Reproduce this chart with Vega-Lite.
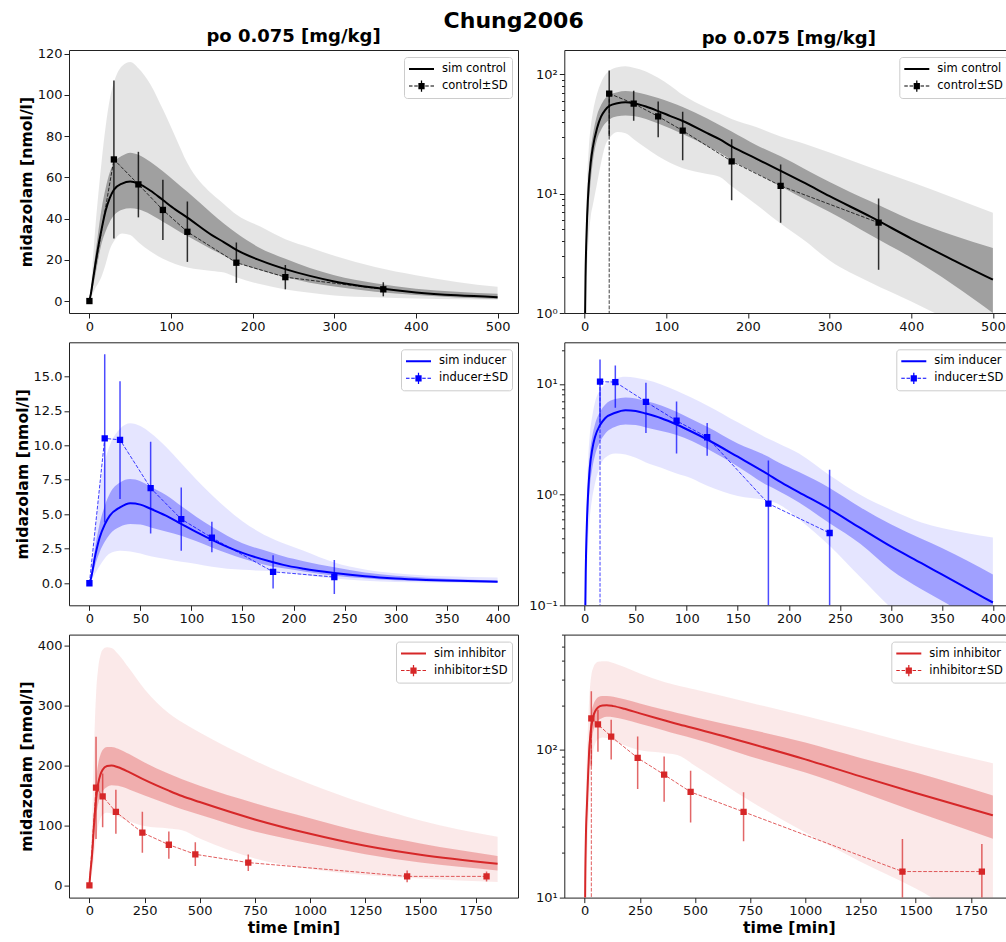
{
"$schema": "https://vega.github.io/schema/vega-lite/v6.json",
"padding": {"left": 13, "top": 10, "right": 0, "bottom": 5},
"title": {"text": "Chung2006", "fontSize": 22, "fontWeight": "bold", "color": "#000000", "offset": -6, "anchor": "middle", "frame": "bounds"},
"columns": 2,
"spacing": {"row": 29.3, "column": 46.3},
"bounds": "flush",
"resolve": {"scale": {"x": "independent", "y": "independent", "shape": "independent"}, "legend": {"shape": "independent"}},
"datasets": {
"control": [
{"kind":"sim control","t":0,"v":0,"lo1":0,"hi1":0,"lo2":0,"hi2":0},
{"kind":"sim control","t":0.5,"v":1.0,"lo1":0.6,"hi1":1.3,"lo2":0.4,"hi2":1.8},
{"kind":"sim control","t":1,"v":2.0,"lo1":1.2,"hi1":2.6,"lo2":0.8,"hi2":3.8},
{"kind":"sim control","t":2,"v":4.0,"lo1":2.5,"hi1":5.2,"lo2":1.5,"hi2":8},
{"kind":"sim control","t":3,"v":6.5,"lo1":4.2,"hi1":8.5,"lo2":2.4,"hi2":13},
{"kind":"sim control","t":5,"v":12,"lo1":8,"hi1":15.5,"lo2":4.3,"hi2":24},
{"kind":"sim control","t":7.5,"v":18.5,"lo1":13,"hi1":23.5,"lo2":6.5,"hi2":37},
{"kind":"sim control","t":10,"v":24.5,"lo1":18.5,"hi1":31,"lo2":8,"hi2":48},
{"kind":"sim control","t":15,"v":35,"lo1":28,"hi1":45,"lo2":12,"hi2":68},
{"kind":"sim control","t":20,"v":44,"lo1":34,"hi1":55,"lo2":18,"hi2":85},
{"kind":"sim control","t":25,"v":50,"lo1":38.5,"hi1":62.5,"lo2":25,"hi2":98},
{"kind":"sim control","t":30,"v":54,"lo1":41.5,"hi1":67,"lo2":29,"hi2":106},
{"kind":"sim control","t":40,"v":57,"lo1":44.3,"hi1":70.5,"lo2":32.8,"hi2":114},
{"kind":"sim control","t":50,"v":58,"lo1":45,"hi1":72,"lo2":32,"hi2":116},
{"kind":"sim control","t":60,"v":57,"lo1":44.5,"hi1":71,"lo2":28.5,"hi2":113},
{"kind":"sim control","t":75,"v":53.5,"lo1":42,"hi1":67.5,"lo2":24,"hi2":105},
{"kind":"sim control","t":90,"v":49,"lo1":38.5,"hi1":63,"lo2":20.5,"hi2":93},
{"kind":"sim control","t":105,"v":44.5,"lo1":35,"hi1":58,"lo2":18,"hi2":80},
{"kind":"sim control","t":120,"v":40.5,"lo1":31.5,"hi1":53,"lo2":16.3,"hi2":67},
{"kind":"sim control","t":150,"v":32,"lo1":25,"hi1":42.5,"lo2":14.6,"hi2":52},
{"kind":"sim control","t":165,"v":28.5,"lo1":22,"hi1":37.5,"lo2":13.8,"hi2":47},
{"kind":"sim control","t":180,"v":24.8,"lo1":19,"hi1":33,"lo2":11.5,"hi2":42},
{"kind":"sim control","t":210,"v":19.6,"lo1":14.8,"hi1":25.5,"lo2":8.1,"hi2":36},
{"kind":"sim control","t":240,"v":15.5,"lo1":11.5,"hi1":20.5,"lo2":5.6,"hi2":30},
{"kind":"sim control","t":270,"v":12.2,"lo1":8.9,"hi1":16,"lo2":4.0,"hi2":26},
{"kind":"sim control","t":300,"v":9.5,"lo1":7.0,"hi1":12.5,"lo2":2.75,"hi2":22},
{"kind":"sim control","t":350,"v":6.4,"lo1":4.5,"hi1":8.6,"lo2":1.8,"hi2":16.5},
{"kind":"sim control","t":400,"v":4.2,"lo1":2.9,"hi1":6.0,"lo2":1.25,"hi2":12.5},
{"kind":"sim control","t":450,"v":2.8,"lo1":1.75,"hi1":4.5,"lo2":0.85,"hi2":9.3},
{"kind":"sim control","t":500,"v":1.9,"lo1":1.0,"hi1":3.5,"lo2":0.6,"hi2":6.9},
{"kind":"control±SD","t":0,"v":0,"lo":0,"hi":0},
{"kind":"control±SD","t":30,"v":68.7,"lo":30.3,"hi":107},
{"kind":"control±SD","t":60,"v":56.6,"lo":40.6,"hi":72.4},
{"kind":"control±SD","t":90,"v":44.2,"lo":29.6,"hi":58.8},
{"kind":"control±SD","t":120,"v":33.6,"lo":19.0,"hi":48.3},
{"kind":"control±SD","t":180,"v":18.6,"lo":8.8,"hi":28.4},
{"kind":"control±SD","t":240,"v":11.6,"lo":5.7,"hi":17.5},
{"kind":"control±SD","t":360,"v":5.7,"lo":2.3,"hi":9.1}
],
"inducer": [
{"kind":"sim inducer","t":0,"v":0,"lo1":0,"hi1":0,"lo2":0,"hi2":0},
{"kind":"sim inducer","t":0.5,"v":0.08,"lo1":0.05,"hi1":0.11,"lo2":0.03,"hi2":0.15},
{"kind":"sim inducer","t":1,"v":0.2,"lo1":0.12,"hi1":0.27,"lo2":0.07,"hi2":0.38},
{"kind":"sim inducer","t":2,"v":0.5,"lo1":0.32,"hi1":0.68,"lo2":0.17,"hi2":1.0},
{"kind":"sim inducer","t":3.5,"v":1.1,"lo1":0.72,"hi1":1.45,"lo2":0.4,"hi2":2.2},
{"kind":"sim inducer","t":5,"v":1.75,"lo1":1.15,"hi1":2.3,"lo2":0.62,"hi2":3.5},
{"kind":"sim inducer","t":7.5,"v":2.6,"lo1":1.75,"hi1":3.4,"lo2":0.95,"hi2":5.2},
{"kind":"sim inducer","t":10,"v":3.3,"lo1":2.25,"hi1":4.3,"lo2":1.25,"hi2":6.8},
{"kind":"sim inducer","t":15,"v":4.25,"lo1":3.0,"hi1":5.6,"lo2":1.8,"hi2":8.8},
{"kind":"sim inducer","t":20,"v":4.9,"lo1":3.55,"hi1":6.5,"lo2":2.15,"hi2":10.0},
{"kind":"sim inducer","t":30,"v":5.5,"lo1":4.1,"hi1":7.3,"lo2":2.35,"hi2":11.2},
{"kind":"sim inducer","t":40,"v":5.8,"lo1":4.3,"hi1":7.55,"lo2":2.3,"hi2":11.6},
{"kind":"sim inducer","t":50,"v":5.7,"lo1":4.25,"hi1":7.4,"lo2":2.15,"hi2":11.4},
{"kind":"sim inducer","t":60,"v":5.4,"lo1":4.05,"hi1":7.0,"lo2":1.95,"hi2":10.9},
{"kind":"sim inducer","t":75,"v":4.9,"lo1":3.75,"hi1":6.4,"lo2":1.75,"hi2":9.9},
{"kind":"sim inducer","t":90,"v":4.3,"lo1":3.45,"hi1":5.6,"lo2":1.55,"hi2":8.7},
{"kind":"sim inducer","t":105,"v":3.7,"lo1":3.05,"hi1":4.8,"lo2":1.4,"hi2":7.5},
{"kind":"sim inducer","t":120,"v":3.15,"lo1":2.6,"hi1":4.1,"lo2":1.2,"hi2":6.4},
{"kind":"sim inducer","t":150,"v":2.2,"lo1":1.8,"hi1":2.9,"lo2":0.97,"hi2":4.5},
{"kind":"sim inducer","t":180,"v":1.52,"lo1":1.2,"hi1":2.2,"lo2":0.88,"hi2":3.2},
{"kind":"sim inducer","t":190,"v":1.33,"lo1":1.08,"hi1":1.95,"lo2":0.82,"hi2":2.9},
{"kind":"sim inducer","t":210,"v":1.05,"lo1":0.85,"hi1":1.6,"lo2":0.6,"hi2":2.35},
{"kind":"sim inducer","t":240,"v":0.74,"lo1":0.55,"hi1":1.15,"lo2":0.345,"hi2":1.5},
{"kind":"sim inducer","t":270,"v":0.5,"lo1":0.36,"hi1":0.77,"lo2":0.18,"hi2":1.0},
{"kind":"sim inducer","t":300,"v":0.34,"lo1":0.21,"hi1":0.54,"lo2":0.095,"hi2":0.73},
{"kind":"sim inducer","t":330,"v":0.24,"lo1":0.14,"hi1":0.4,"lo2":0.055,"hi2":0.56},
{"kind":"sim inducer","t":350,"v":0.19,"lo1":0.11,"hi1":0.33,"lo2":0.04,"hi2":0.5},
{"kind":"sim inducer","t":400,"v":0.106,"lo1":0.058,"hi1":0.19,"lo2":0.02,"hi2":0.41},
{"kind":"inducer±SD","t":0,"v":0,"lo":0,"hi":0},
{"kind":"inducer±SD","t":15,"v":10.5,"lo":4.4,"hi":16.6},
{"kind":"inducer±SD","t":30,"v":10.4,"lo":6.1,"hi":14.65},
{"kind":"inducer±SD","t":60,"v":6.9,"lo":3.6,"hi":10.25},
{"kind":"inducer±SD","t":90,"v":4.65,"lo":2.35,"hi":6.95},
{"kind":"inducer±SD","t":120,"v":3.3,"lo":2.25,"hi":4.45},
{"kind":"inducer±SD","t":180,"v":0.83,"lo":-0.38,"hi":2.03},
{"kind":"inducer±SD","t":240,"v":0.45,"lo":-0.78,"hi":1.68}
],
"inhibitor": [
{"kind":"sim inhibitor","t":0,"v":0,"lo1":0,"hi1":0,"lo2":0,"hi2":0},
{"kind":"sim inhibitor","t":1,"v":5,"lo1":3.8,"hi1":6.2,"lo2":2,"hi2":9},
{"kind":"sim inhibitor","t":2,"v":10.5,"lo1":7.5,"hi1":13,"lo2":4,"hi2":18},
{"kind":"sim inhibitor","t":5,"v":24,"lo1":17,"hi1":29,"lo2":9,"hi2":45},
{"kind":"sim inhibitor","t":10,"v":42,"lo1":31,"hi1":52,"lo2":17,"hi2":90},
{"kind":"sim inhibitor","t":15,"v":65,"lo1":51,"hi1":82,"lo2":28,"hi2":145},
{"kind":"sim inhibitor","t":20,"v":97,"lo1":76,"hi1":120,"lo2":45,"hi2":215},
{"kind":"sim inhibitor","t":25,"v":122,"lo1":96,"hi1":150,"lo2":62,"hi2":275},
{"kind":"sim inhibitor","t":30,"v":143,"lo1":113,"hi1":175,"lo2":78,"hi2":318},
{"kind":"sim inhibitor","t":40,"v":170,"lo1":136,"hi1":203,"lo2":100,"hi2":363},
{"kind":"sim inhibitor","t":50,"v":185,"lo1":150,"hi1":218,"lo2":112,"hi2":384},
{"kind":"sim inhibitor","t":60,"v":193,"lo1":157,"hi1":226,"lo2":118,"hi2":393},
{"kind":"sim inhibitor","t":80,"v":199,"lo1":164,"hi1":231,"lo2":121,"hi2":397},
{"kind":"sim inhibitor","t":100,"v":200,"lo1":167,"hi1":231,"lo2":120,"hi2":396},
{"kind":"sim inhibitor","t":130,"v":197,"lo1":166,"hi1":228,"lo2":115,"hi2":386},
{"kind":"sim inhibitor","t":180,"v":189,"lo1":160,"hi1":219,"lo2":107,"hi2":362},
{"kind":"sim inhibitor","t":250,"v":176,"lo1":150,"hi1":205,"lo2":99,"hi2":327},
{"kind":"sim inhibitor","t":360,"v":158,"lo1":135,"hi1":186,"lo2":95,"hi2":287},
{"kind":"sim inhibitor","t":420,"v":149,"lo1":127,"hi1":177,"lo2":92,"hi2":272},
{"kind":"sim inhibitor","t":500,"v":139,"lo1":118,"hi1":166,"lo2":78,"hi2":255},
{"kind":"sim inhibitor","t":750,"v":110,"lo1":90,"hi1":137,"lo2":45,"hi2":208},
{"kind":"sim inhibitor","t":1000,"v":86,"lo1":70,"hi1":112,"lo2":27.5,"hi2":169},
{"kind":"sim inhibitor","t":1250,"v":66,"lo1":52,"hi1":88,"lo2":17.5,"hi2":136},
{"kind":"sim inhibitor","t":1500,"v":51,"lo1":38,"hi1":70,"lo2":11.5,"hi2":108},
{"kind":"sim inhibitor","t":1850,"v":36,"lo1":25,"hi1":49,"lo2":5.5,"hi2":81},
{"kind":"inhibitor±SD","t":0,"v":0,"lo":0,"hi":0},
{"kind":"inhibitor±SD","t":30,"v":163,"lo":77.5,"hi":248},
{"kind":"inhibitor±SD","t":60,"v":148.5,"lo":97,"hi":186.5},
{"kind":"inhibitor±SD","t":120,"v":122.5,"lo":86,"hi":159.5},
{"kind":"inhibitor±SD","t":240,"v":88,"lo":54.3,"hi":123},
{"kind":"inhibitor±SD","t":360,"v":67.8,"lo":44.5,"hi":90},
{"kind":"inhibitor±SD","t":480,"v":51.8,"lo":32.2,"hi":72},
{"kind":"inhibitor±SD","t":720,"v":38,"lo":24,"hi":51.5},
{"kind":"inhibitor±SD","t":1440,"v":15,"lo":5.3,"hi":24.9},
{"kind":"inhibitor±SD","t":1800,"v":15,"lo":6.5,"hi":23}
]
},
"concat": [
{
"width": 449, "height": 263,
"title": {"text": "po 0.075 [mg/kg]"},
"data": {"name": "control"},
"encoding": {"x": {"field": "t", "type": "quantitative", "title": null, "scale": {"domain": [-25, 525], "nice": false, "zero": false}, "axis": {"values": [0,100,200,300,400,500], "format": "d"}}},
"layer": [
{"transform": [{"filter": {"field": "kind", "equal": "sim control"}}], "mark": {"type": "area", "color": "#000000", "opacity": 0.1, "clip": true, "interpolate": "monotone"},
 "encoding": {"y": {"field": "lo2", "type": "quantitative", "title": "midazolam [nmol/l]", "scale": {"domain": [-5.8, 121.8], "nice": false, "zero": false}, "axis": {"values": [0,20,40,60,80,100,120]}}, "y2": {"field": "hi2"}}},
{"transform": [{"filter": {"field": "kind", "equal": "sim control"}}], "mark": {"type": "area", "color": "#000000", "opacity": 0.3, "clip": true, "interpolate": "monotone"},
 "encoding": {"y": {"field": "lo1", "type": "quantitative", "title": "midazolam [nmol/l]"}, "y2": {"field": "hi1"}}},
{"transform": [{"filter": {"field": "kind", "equal": "sim control"}}], "mark": {"type": "line", "color": "#000000", "strokeWidth": 2, "clip": true, "interpolate": "monotone"},
 "encoding": {"y": {"field": "v", "type": "quantitative", "title": "midazolam [nmol/l]"}}},
{"transform": [{"filter": {"field": "kind", "equal": "control±SD"}}], "mark": {"type": "line", "color": "#000000", "strokeWidth": 1, "strokeDash": [3.7, 1.6], "opacity": 0.75, "clip": true},
 "encoding": {"y": {"field": "v", "type": "quantitative", "title": "midazolam [nmol/l]"}}},
{"transform": [{"filter": {"field": "kind", "equal": "control±SD"}}], "mark": {"type": "rule", "color": "#000000", "strokeWidth": 1.5, "opacity": 0.8, "clip": true},
 "encoding": {"y": {"field": "lo", "type": "quantitative", "title": "midazolam [nmol/l]"}, "y2": {"field": "hi"}}},
{"transform": [{"filter": {"field": "kind", "equal": "control±SD"}}], "mark": {"type": "point", "shape": "square", "filled": true, "size": 40, "color": "#000000", "opacity": 1, "clip": true},
 "encoding": {"y": {"field": "v", "type": "quantitative", "title": "midazolam [nmol/l]"}}},
{"mark": {"type": "point", "filled": true, "color": "#000000", "opacity": 0},
 "encoding": {"y": {"field": "v", "type": "quantitative", "title": "midazolam [nmol/l]"},
  "shape": {"field": "kind", "type": "nominal", "scale": {"domain": ["sim control", "control±SD"], "range": ["M-1,-0.08H1V0.08H-1Z", "M-1,-0.04H-0.72V0.04H-1ZM-0.58,-0.04H-0.3V0.04H-0.58ZM0.3,-0.04H0.58V0.04H0.3ZM0.72,-0.04H1V0.04H0.72ZM-0.25,-0.25H0.25V0.25H-0.25ZM-0.05,-0.45H0.05V0.45H-0.05Z"]},
   "legend": {"title": null}}}}
]
},
{
"width": 449, "height": 263,
"title": {"text": "po 0.075 [mg/kg]"},
"data": {"name": "control"},
"encoding": {"x": {"field": "t", "type": "quantitative", "title": null, "scale": {"domain": [-25, 525], "nice": false, "zero": false}, "axis": {"values": [0,100,200,300,400,500], "format": "d"}}},
"layer": [
{"transform": [{"filter": {"and": [{"field": "kind", "equal": "sim control"}, {"field": "v", "gt": 0}]}}], "mark": {"type": "area", "color": "#000000", "opacity": 0.1, "clip": true, "interpolate": "monotone"},
 "encoding": {"y": {"field": "lo2", "type": "quantitative", "title": null, "scale": {"type": "log", "domain": [1, 159], "nice": false}, "axis": {"values": [1,2,3,4,5,6,7,8,9,10,20,30,40,50,60,70,80,90,100], "labelExpr": "datum.value === 1 ? '10⁰' : datum.value === 10 ? '10¹' : datum.value === 100 ? '10²' : ''", "tickSize": {"condition": {"test": "datum.value === 1 || datum.value === 10 || datum.value === 100", "value": 5}, "value": 2.8}}}, "y2": {"field": "hi2"}}},
{"transform": [{"filter": {"and": [{"field": "kind", "equal": "sim control"}, {"field": "v", "gt": 0}]}}], "mark": {"type": "area", "color": "#000000", "opacity": 0.3, "clip": true, "interpolate": "monotone"},
 "encoding": {"y": {"field": "lo1", "type": "quantitative", "title": null}, "y2": {"field": "hi1"}}},
{"transform": [{"filter": {"and": [{"field": "kind", "equal": "sim control"}, {"field": "v", "gt": 0}]}}], "mark": {"type": "line", "color": "#000000", "strokeWidth": 2, "clip": true, "interpolate": "monotone"},
 "encoding": {"y": {"field": "v", "type": "quantitative", "title": null}}},
{"transform": [{"filter": {"and": [{"field": "kind", "equal": "control±SD"}, {"field": "v", "gt": 0}]}}], "mark": {"type": "line", "color": "#000000", "strokeWidth": 1, "strokeDash": [3.7, 1.6], "opacity": 0.75, "clip": true},
 "encoding": {"y": {"field": "v", "type": "quantitative", "title": null}}},
{"transform": [{"filter": {"and": [{"field": "kind", "equal": "control±SD"}, {"field": "t", "equal": 30}]}}], "mark": {"type": "rule", "color": "#000000", "strokeWidth": 1, "strokeDash": [3.7, 1.6], "opacity": 0.75, "clip": true},
 "encoding": {"y": {"field": "v", "type": "quantitative", "title": null}, "y2": {"datum": 1}}},
{"transform": [{"filter": {"and": [{"field": "kind", "equal": "control±SD"}, {"field": "lo", "gt": 0}]}}], "mark": {"type": "rule", "color": "#000000", "strokeWidth": 1.5, "opacity": 0.8, "clip": true},
 "encoding": {"y": {"field": "lo", "type": "quantitative", "title": null}, "y2": {"field": "hi"}}},
{"transform": [{"filter": {"and": [{"field": "kind", "equal": "control±SD"}, {"field": "v", "gt": 0}]}}], "mark": {"type": "point", "shape": "square", "filled": true, "size": 40, "color": "#000000", "opacity": 1, "clip": true},
 "encoding": {"y": {"field": "v", "type": "quantitative", "title": null}}},
{"transform": [{"filter": {"field": "v", "gt": 0}}], "mark": {"type": "point", "filled": true, "color": "#000000", "opacity": 0},
 "encoding": {"y": {"field": "v", "type": "quantitative", "title": null},
  "shape": {"field": "kind", "type": "nominal", "scale": {"domain": ["sim control", "control±SD"], "range": ["M-1,-0.08H1V0.08H-1Z", "M-1,-0.04H-0.72V0.04H-1ZM-0.58,-0.04H-0.3V0.04H-0.58ZM0.3,-0.04H0.58V0.04H0.3ZM0.72,-0.04H1V0.04H0.72ZM-0.25,-0.25H0.25V0.25H-0.25ZM-0.05,-0.45H0.05V0.45H-0.05Z"]},
   "legend": {"title": null}}}}
]
},
{
"width": 449, "height": 263,
"data": {"name": "inducer"},
"encoding": {"x": {"field": "t", "type": "quantitative", "title": null, "scale": {"domain": [-20, 420], "nice": false, "zero": false}, "axis": {"values": [0,50,100,150,200,250,300,350,400], "format": "d"}}},
"layer": [
{"transform": [{"filter": {"field": "kind", "equal": "sim inducer"}}], "mark": {"type": "area", "color": "#0000ff", "opacity": 0.1, "clip": true, "interpolate": "monotone"},
 "encoding": {"y": {"field": "lo2", "type": "quantitative", "title": "midazolam [nmol/l]", "scale": {"domain": [-1.6, 17.47], "nice": false, "zero": false}, "axis": {"values": [0,2.5,5,7.5,10,12.5,15], "format": ".1f"}}, "y2": {"field": "hi2"}}},
{"transform": [{"filter": {"field": "kind", "equal": "sim inducer"}}], "mark": {"type": "area", "color": "#0000ff", "opacity": 0.3, "clip": true, "interpolate": "monotone"},
 "encoding": {"y": {"field": "lo1", "type": "quantitative", "title": "midazolam [nmol/l]"}, "y2": {"field": "hi1"}}},
{"transform": [{"filter": {"field": "kind", "equal": "sim inducer"}}], "mark": {"type": "line", "color": "#0000ff", "strokeWidth": 2, "clip": true, "interpolate": "monotone"},
 "encoding": {"y": {"field": "v", "type": "quantitative", "title": "midazolam [nmol/l]"}}},
{"transform": [{"filter": {"field": "kind", "equal": "inducer±SD"}}], "mark": {"type": "line", "color": "#0000ff", "strokeWidth": 1, "strokeDash": [3.7, 1.6], "opacity": 0.75, "clip": true},
 "encoding": {"y": {"field": "v", "type": "quantitative", "title": "midazolam [nmol/l]"}}},
{"transform": [{"filter": {"field": "kind", "equal": "inducer±SD"}}], "mark": {"type": "rule", "color": "#0000ff", "strokeWidth": 1.5, "opacity": 0.7, "clip": true},
 "encoding": {"y": {"field": "lo", "type": "quantitative", "title": "midazolam [nmol/l]"}, "y2": {"field": "hi"}}},
{"transform": [{"filter": {"field": "kind", "equal": "inducer±SD"}}], "mark": {"type": "point", "shape": "square", "filled": true, "size": 40, "color": "#0000ff", "opacity": 1, "clip": true},
 "encoding": {"y": {"field": "v", "type": "quantitative", "title": "midazolam [nmol/l]"}}},
{"mark": {"type": "point", "filled": true, "color": "#0000ff", "opacity": 0},
 "encoding": {"y": {"field": "v", "type": "quantitative", "title": "midazolam [nmol/l]"},
  "shape": {"field": "kind", "type": "nominal", "scale": {"domain": ["sim inducer", "inducer±SD"], "range": ["M-1,-0.08H1V0.08H-1Z", "M-1,-0.04H-0.72V0.04H-1ZM-0.58,-0.04H-0.3V0.04H-0.58ZM0.3,-0.04H0.58V0.04H0.3ZM0.72,-0.04H1V0.04H0.72ZM-0.25,-0.25H0.25V0.25H-0.25ZM-0.05,-0.45H0.05V0.45H-0.05Z"]},
   "legend": {"title": null}}}}
]
},
{
"width": 449, "height": 263,
"data": {"name": "inducer"},
"encoding": {"x": {"field": "t", "type": "quantitative", "title": null, "scale": {"domain": [-20, 420], "nice": false, "zero": false}, "axis": {"values": [0,50,100,150,200,250,300,350,400], "format": "d"}}},
"layer": [
{"transform": [{"filter": {"and": [{"field": "kind", "equal": "sim inducer"}, {"field": "v", "gt": 0}]}}], "mark": {"type": "area", "color": "#0000ff", "opacity": 0.1, "clip": true, "interpolate": "monotone"},
 "encoding": {"y": {"field": "lo2", "type": "quantitative", "title": null, "scale": {"type": "log", "domain": [0.1, 23.8], "nice": false}, "axis": {"values": [0.1,0.2,0.3,0.4,0.5,0.6,0.7,0.8,0.9,1,2,3,4,5,6,7,8,9,10,20], "labelExpr": "datum.value === 0.1 ? '10⁻¹' : datum.value === 1 ? '10⁰' : datum.value === 10 ? '10¹' : ''", "tickSize": {"condition": {"test": "datum.value === 0.1 || datum.value === 1 || datum.value === 10", "value": 5}, "value": 2.8}}}, "y2": {"field": "hi2"}}},
{"transform": [{"filter": {"and": [{"field": "kind", "equal": "sim inducer"}, {"field": "v", "gt": 0}]}}], "mark": {"type": "area", "color": "#0000ff", "opacity": 0.3, "clip": true, "interpolate": "monotone"},
 "encoding": {"y": {"field": "lo1", "type": "quantitative", "title": null}, "y2": {"field": "hi1"}}},
{"transform": [{"filter": {"and": [{"field": "kind", "equal": "sim inducer"}, {"field": "v", "gt": 0}]}}], "mark": {"type": "line", "color": "#0000ff", "strokeWidth": 2, "clip": true, "interpolate": "monotone"},
 "encoding": {"y": {"field": "v", "type": "quantitative", "title": null}}},
{"transform": [{"filter": {"and": [{"field": "kind", "equal": "inducer±SD"}, {"field": "v", "gt": 0}]}}], "mark": {"type": "line", "color": "#0000ff", "strokeWidth": 1, "strokeDash": [3.7, 1.6], "opacity": 0.75, "clip": true},
 "encoding": {"y": {"field": "v", "type": "quantitative", "title": null}}},
{"transform": [{"filter": {"and": [{"field": "kind", "equal": "inducer±SD"}, {"field": "t", "equal": 15}]}}], "mark": {"type": "rule", "color": "#0000ff", "strokeWidth": 1, "strokeDash": [3.7, 1.6], "opacity": 0.75, "clip": true},
 "encoding": {"y": {"field": "v", "type": "quantitative", "title": null}, "y2": {"datum": 0.1}}},
{"transform": [{"filter": {"and": [{"field": "kind", "equal": "inducer±SD"}, {"field": "lo", "gt": 0}]}}], "mark": {"type": "rule", "color": "#0000ff", "strokeWidth": 1.5, "opacity": 0.7, "clip": true},
 "encoding": {"y": {"field": "lo", "type": "quantitative", "title": null}, "y2": {"field": "hi"}}},
{"transform": [{"filter": {"and": [{"field": "kind", "equal": "inducer±SD"}, {"field": "v", "gt": 0}, {"field": "lo", "lte": 0}]}}], "mark": {"type": "rule", "color": "#0000ff", "strokeWidth": 1.5, "opacity": 0.7, "clip": true},
 "encoding": {"y": {"field": "hi", "type": "quantitative", "title": null}, "y2": {"datum": 0.1}}},
{"transform": [{"filter": {"and": [{"field": "kind", "equal": "inducer±SD"}, {"field": "v", "gt": 0}]}}], "mark": {"type": "point", "shape": "square", "filled": true, "size": 40, "color": "#0000ff", "opacity": 1, "clip": true},
 "encoding": {"y": {"field": "v", "type": "quantitative", "title": null}}},
{"transform": [{"filter": {"field": "v", "gt": 0}}], "mark": {"type": "point", "filled": true, "color": "#0000ff", "opacity": 0},
 "encoding": {"y": {"field": "v", "type": "quantitative", "title": null},
  "shape": {"field": "kind", "type": "nominal", "scale": {"domain": ["sim inducer", "inducer±SD"], "range": ["M-1,-0.08H1V0.08H-1Z", "M-1,-0.04H-0.72V0.04H-1ZM-0.58,-0.04H-0.3V0.04H-0.58ZM0.3,-0.04H0.58V0.04H0.3ZM0.72,-0.04H1V0.04H0.72ZM-0.25,-0.25H0.25V0.25H-0.25ZM-0.05,-0.45H0.05V0.45H-0.05Z"]},
   "legend": {"title": null}}}}
]
},
{
"width": 449, "height": 263,
"data": {"name": "inhibitor"},
"encoding": {"x": {"field": "t", "type": "quantitative", "title": "time [min]", "scale": {"domain": [-92.5, 1942.5], "nice": false, "zero": false}, "axis": {"values": [0,250,500,750,1000,1250,1500,1750], "format": "d"}}},
"layer": [
{"transform": [{"filter": {"field": "kind", "equal": "sim inhibitor"}}], "mark": {"type": "area", "color": "#d62728", "opacity": 0.1, "clip": true, "interpolate": "monotone"},
 "encoding": {"y": {"field": "lo2", "type": "quantitative", "title": "midazolam [nmol/l]", "scale": {"domain": [-20.4, 418.3], "nice": false, "zero": false}, "axis": {"values": [0,50,100,150,200,250,300,350,400]}}, "y2": {"field": "hi2"}}},
{"transform": [{"filter": {"field": "kind", "equal": "sim inhibitor"}}], "mark": {"type": "area", "color": "#d62728", "opacity": 0.3, "clip": true, "interpolate": "monotone"},
 "encoding": {"y": {"field": "lo1", "type": "quantitative", "title": "midazolam [nmol/l]"}, "y2": {"field": "hi1"}}},
{"transform": [{"filter": {"field": "kind", "equal": "sim inhibitor"}}], "mark": {"type": "line", "color": "#d62728", "strokeWidth": 2, "clip": true, "interpolate": "monotone"},
 "encoding": {"y": {"field": "v", "type": "quantitative", "title": "midazolam [nmol/l]"}}},
{"transform": [{"filter": {"field": "kind", "equal": "inhibitor±SD"}}], "mark": {"type": "line", "color": "#d62728", "strokeWidth": 1, "strokeDash": [3.7, 1.6], "opacity": 0.75, "clip": true},
 "encoding": {"y": {"field": "v", "type": "quantitative", "title": "midazolam [nmol/l]"}}},
{"transform": [{"filter": {"field": "kind", "equal": "inhibitor±SD"}}], "mark": {"type": "rule", "color": "#d62728", "strokeWidth": 1.5, "opacity": 0.7, "clip": true},
 "encoding": {"y": {"field": "lo", "type": "quantitative", "title": "midazolam [nmol/l]"}, "y2": {"field": "hi"}}},
{"transform": [{"filter": {"field": "kind", "equal": "inhibitor±SD"}}], "mark": {"type": "point", "shape": "square", "filled": true, "size": 40, "color": "#d62728", "opacity": 1, "clip": true},
 "encoding": {"y": {"field": "v", "type": "quantitative", "title": "midazolam [nmol/l]"}}},
{"mark": {"type": "point", "filled": true, "color": "#d62728", "opacity": 0},
 "encoding": {"y": {"field": "v", "type": "quantitative", "title": "midazolam [nmol/l]"},
  "shape": {"field": "kind", "type": "nominal", "scale": {"domain": ["sim inhibitor", "inhibitor±SD"], "range": ["M-1,-0.08H1V0.08H-1Z", "M-1,-0.04H-0.72V0.04H-1ZM-0.58,-0.04H-0.3V0.04H-0.58ZM0.3,-0.04H0.58V0.04H0.3ZM0.72,-0.04H1V0.04H0.72ZM-0.25,-0.25H0.25V0.25H-0.25ZM-0.05,-0.45H0.05V0.45H-0.05Z"]},
   "legend": {"title": null}}}}
]
},
{
"width": 449, "height": 263,
"data": {"name": "inhibitor"},
"encoding": {"x": {"field": "t", "type": "quantitative", "title": "time [min]", "scale": {"domain": [-92.5, 1942.5], "nice": false, "zero": false}, "axis": {"values": [0,250,500,750,1000,1250,1500,1750], "format": "d"}}},
"layer": [
{"transform": [{"filter": {"and": [{"field": "kind", "equal": "sim inhibitor"}, {"field": "v", "gt": 0}]}}], "mark": {"type": "area", "color": "#d62728", "opacity": 0.1, "clip": true, "interpolate": "monotone"},
 "encoding": {"y": {"field": "lo2", "type": "quantitative", "title": null, "scale": {"type": "log", "domain": [10, 600], "nice": false}, "axis": {"values": [10,20,30,40,50,60,70,80,90,100,200,300,400,500,600], "labelExpr": "datum.value === 10 ? '10¹' : datum.value === 100 ? '10²' : ''", "tickSize": {"condition": {"test": "datum.value === 10 || datum.value === 100", "value": 5}, "value": 2.8}}}, "y2": {"field": "hi2"}}},
{"transform": [{"filter": {"and": [{"field": "kind", "equal": "sim inhibitor"}, {"field": "v", "gt": 0}]}}], "mark": {"type": "area", "color": "#d62728", "opacity": 0.3, "clip": true, "interpolate": "monotone"},
 "encoding": {"y": {"field": "lo1", "type": "quantitative", "title": null}, "y2": {"field": "hi1"}}},
{"transform": [{"filter": {"and": [{"field": "kind", "equal": "sim inhibitor"}, {"field": "v", "gt": 0}]}}], "mark": {"type": "line", "color": "#d62728", "strokeWidth": 2, "clip": true, "interpolate": "monotone"},
 "encoding": {"y": {"field": "v", "type": "quantitative", "title": null}}},
{"transform": [{"filter": {"and": [{"field": "kind", "equal": "inhibitor±SD"}, {"field": "v", "gt": 0}]}}], "mark": {"type": "line", "color": "#d62728", "strokeWidth": 1, "strokeDash": [3.7, 1.6], "opacity": 0.75, "clip": true},
 "encoding": {"y": {"field": "v", "type": "quantitative", "title": null}}},
{"transform": [{"filter": {"and": [{"field": "kind", "equal": "inhibitor±SD"}, {"field": "t", "equal": 30}]}}], "mark": {"type": "rule", "color": "#d62728", "strokeWidth": 1, "strokeDash": [3.7, 1.6], "opacity": 0.75, "clip": true},
 "encoding": {"y": {"field": "v", "type": "quantitative", "title": null}, "y2": {"datum": 10}}},
{"transform": [{"filter": {"and": [{"field": "kind", "equal": "inhibitor±SD"}, {"field": "lo", "gt": 0}]}}], "mark": {"type": "rule", "color": "#d62728", "strokeWidth": 1.5, "opacity": 0.7, "clip": true},
 "encoding": {"y": {"field": "lo", "type": "quantitative", "title": null}, "y2": {"field": "hi"}}},
{"transform": [{"filter": {"and": [{"field": "kind", "equal": "inhibitor±SD"}, {"field": "v", "gt": 0}]}}], "mark": {"type": "point", "shape": "square", "filled": true, "size": 40, "color": "#d62728", "opacity": 1, "clip": true},
 "encoding": {"y": {"field": "v", "type": "quantitative", "title": null}}},
{"transform": [{"filter": {"field": "v", "gt": 0}}], "mark": {"type": "point", "filled": true, "color": "#d62728", "opacity": 0},
 "encoding": {"y": {"field": "v", "type": "quantitative", "title": null},
  "shape": {"field": "kind", "type": "nominal", "scale": {"domain": ["sim inhibitor", "inhibitor±SD"], "range": ["M-1,-0.08H1V0.08H-1Z", "M-1,-0.04H-0.72V0.04H-1ZM-0.58,-0.04H-0.3V0.04H-0.58ZM0.3,-0.04H0.58V0.04H0.3ZM0.72,-0.04H1V0.04H0.72ZM-0.25,-0.25H0.25V0.25H-0.25ZM-0.05,-0.45H0.05V0.45H-0.05Z"]},
   "legend": {"title": null}}}}
]
}
],
"config": {
"font": "DejaVu Sans",
"view": {"stroke": "#222222", "strokeWidth": 1},
"axis": {"grid": false, "domain": false, "tickSize": 5, "tickColor": "#222222", "tickWidth": 1, "labelFontSize": 13, "labelColor": "#111111", "labelPadding": 2, "titleFontSize": 15.7, "titleFontWeight": "bold", "titleColor": "#000000", "titlePadding": 3, "labelFlush": false, "labelOverlap": false},
"title": {"fontSize": 18, "fontWeight": "bold", "color": "#000000", "offset": 2},
"legend": {"orient": "top-right", "offset": 6.5, "padding": 4, "fillColor": "rgba(255,255,255,0.8)", "strokeColor": "#cccccc", "cornerRadius": 3, "labelFontSize": 11.5, "labelColor": "#000000", "symbolSize": 625, "symbolOpacity": 1, "labelOffset": 7, "rowPadding": 1, "clipHeight": 16, "labelLimit": 200}
}
}
